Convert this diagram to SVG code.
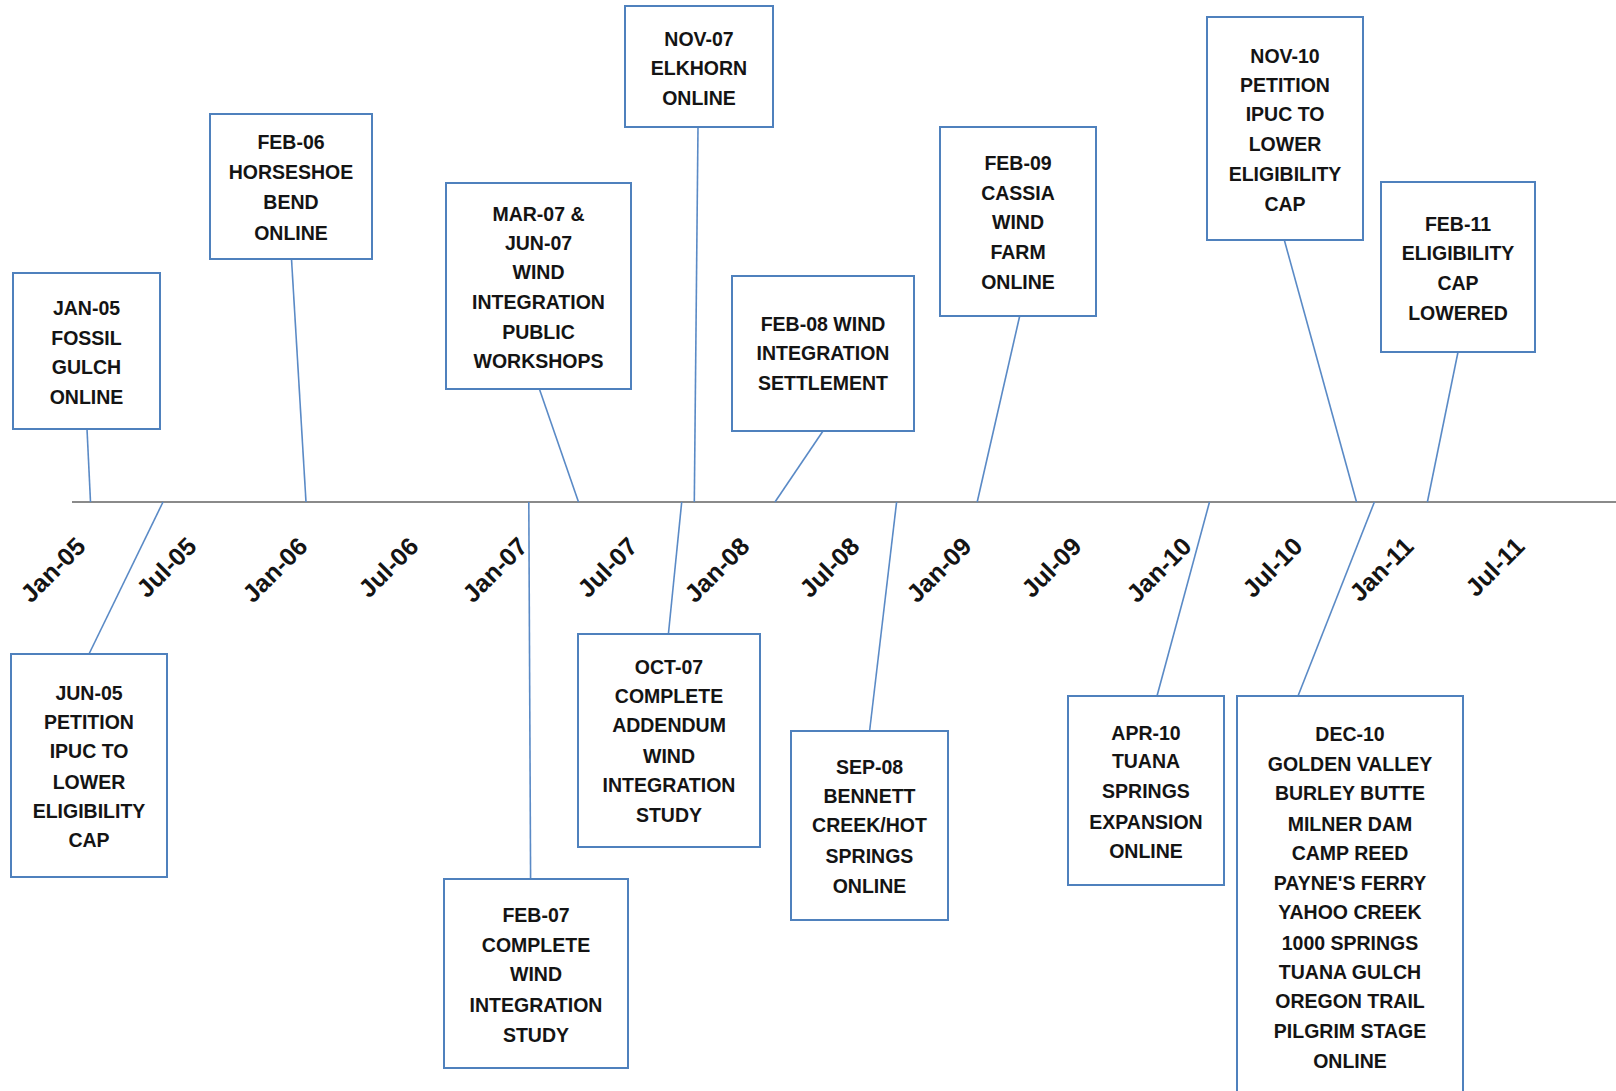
<svg xmlns="http://www.w3.org/2000/svg" width="1616" height="1091" viewBox="0 0 1616 1091">
<style>
.box{fill:#ffffff;stroke:#4f81bd;stroke-width:2}
.t{font-family:"Liberation Sans",Arial,sans-serif;font-weight:bold;font-size:19.5px;fill:#141414;text-anchor:middle}
.ax{font-family:"Liberation Sans",Arial,sans-serif;font-weight:bold;font-size:25px;fill:#141414;text-anchor:end}
.c{stroke:#5a8ac6;stroke-width:1.6;fill:none}
</style>
<rect width="1616" height="1091" fill="#ffffff"/>
<g id="axis">
<line x1="72" y1="502" x2="1616" y2="502" stroke="#8a8a8a" stroke-width="1.8"/>
<text class="ax" transform="translate(87,548) rotate(-45)">Jan-05</text>
<text class="ax" transform="translate(198,548) rotate(-45)">Jul-05</text>
<text class="ax" transform="translate(309,548) rotate(-45)">Jan-06</text>
<text class="ax" transform="translate(420,548) rotate(-45)">Jul-06</text>
<text class="ax" transform="translate(529,548) rotate(-45)">Jan-07</text>
<text class="ax" transform="translate(639,548) rotate(-45)">Jul-07</text>
<text class="ax" transform="translate(751,548) rotate(-45)">Jan-08</text>
<text class="ax" transform="translate(861,548) rotate(-45)">Jul-08</text>
<text class="ax" transform="translate(973,548) rotate(-45)">Jan-09</text>
<text class="ax" transform="translate(1083,548) rotate(-45)">Jul-09</text>
<text class="ax" transform="translate(1193,548) rotate(-45)">Jan-10</text>
<text class="ax" transform="translate(1304,548) rotate(-45)">Jul-10</text>
<text class="ax" transform="translate(1415,548) rotate(-45)">Jan-11</text>
<text class="ax" transform="translate(1526,548) rotate(-45)">Jul-11</text>
</g>
<g id="connectors">
<line class="c" x1="87" y1="429" x2="90.5" y2="502"/>
<line class="c" x1="89" y1="654" x2="163" y2="502"/>
<line class="c" x1="291.5" y1="259" x2="306" y2="502"/>
<line class="c" x1="528.8" y1="502" x2="530.6" y2="879"/>
<line class="c" x1="539.4" y1="389" x2="578.5" y2="502"/>
<line class="c" x1="681.7" y1="502" x2="668.4" y2="634"/>
<line class="c" x1="698" y1="127" x2="694.3" y2="502"/>
<line class="c" x1="823" y1="431" x2="775" y2="502"/>
<line class="c" x1="896.6" y1="502" x2="869.6" y2="731"/>
<line class="c" x1="1019.7" y1="316" x2="977.2" y2="502"/>
<line class="c" x1="1209.5" y1="502" x2="1157" y2="696"/>
<line class="c" x1="1284.3" y1="240" x2="1356.5" y2="502"/>
<line class="c" x1="1374.4" y1="502" x2="1298" y2="696"/>
<line class="c" x1="1458" y1="352" x2="1427.4" y2="502"/>
</g>
<g id="n-jan05">
<rect class="box" x="13" y="273" width="147" height="156"/>
<text class="t" x="86.5" y="315">JAN-05</text>
<text class="t" x="86.5" y="344.5">FOSSIL</text>
<text class="t" x="86.5" y="374">GULCH</text>
<text class="t" x="86.5" y="403.5">ONLINE</text>
</g>
<g id="n-feb06">
<rect class="box" x="210" y="114" width="162" height="145"/>
<text class="t" x="291" y="149">FEB-06</text>
<text class="t" x="291" y="179">HORSESHOE</text>
<text class="t" x="291" y="209">BEND</text>
<text class="t" x="291" y="240">ONLINE</text>
</g>
<g id="n-mar07">
<rect class="box" x="446" y="183" width="185" height="206"/>
<text class="t" x="538.5" y="220.5">MAR-07 &amp;</text>
<text class="t" x="538.5" y="250">JUN-07</text>
<text class="t" x="538.5" y="279">WIND</text>
<text class="t" x="538.5" y="309">INTEGRATION</text>
<text class="t" x="538.5" y="338.5">PUBLIC</text>
<text class="t" x="538.5" y="368">WORKSHOPS</text>
</g>
<g id="n-nov07">
<rect class="box" x="625" y="6" width="148" height="121"/>
<text class="t" x="699" y="46">NOV-07</text>
<text class="t" x="699" y="75">ELKHORN</text>
<text class="t" x="699" y="104.5">ONLINE</text>
</g>
<g id="n-feb08">
<rect class="box" x="732" y="276" width="182" height="155"/>
<text class="t" x="823" y="331">FEB-08 WIND</text>
<text class="t" x="823" y="360">INTEGRATION</text>
<text class="t" x="823" y="389.5">SETTLEMENT</text>
</g>
<g id="n-feb09">
<rect class="box" x="940" y="127" width="156" height="189"/>
<text class="t" x="1018" y="170">FEB-09</text>
<text class="t" x="1018" y="199.5">CASSIA</text>
<text class="t" x="1018" y="229">WIND</text>
<text class="t" x="1018" y="259">FARM</text>
<text class="t" x="1018" y="289">ONLINE</text>
</g>
<g id="n-nov10">
<rect class="box" x="1207" y="17" width="156" height="223"/>
<text class="t" x="1285" y="62.5">NOV-10</text>
<text class="t" x="1285" y="91.5">PETITION</text>
<text class="t" x="1285" y="121">IPUC TO</text>
<text class="t" x="1285" y="151">LOWER</text>
<text class="t" x="1285" y="181">ELIGIBILITY</text>
<text class="t" x="1285" y="210.5">CAP</text>
</g>
<g id="n-feb11">
<rect class="box" x="1381" y="182" width="154" height="170"/>
<text class="t" x="1458" y="231">FEB-11</text>
<text class="t" x="1458" y="260">ELIGIBILITY</text>
<text class="t" x="1458" y="289.5">CAP</text>
<text class="t" x="1458" y="320">LOWERED</text>
</g>
<g id="n-jun05">
<rect class="box" x="11" y="654" width="156" height="223"/>
<text class="t" x="89" y="700">JUN-05</text>
<text class="t" x="89" y="729">PETITION</text>
<text class="t" x="89" y="758">IPUC TO</text>
<text class="t" x="89" y="788.5">LOWER</text>
<text class="t" x="89" y="818">ELIGIBILITY</text>
<text class="t" x="89" y="847">CAP</text>
</g>
<g id="n-feb07">
<rect class="box" x="444" y="879" width="184" height="189"/>
<text class="t" x="536" y="922">FEB-07</text>
<text class="t" x="536" y="951.5">COMPLETE</text>
<text class="t" x="536" y="981">WIND</text>
<text class="t" x="536" y="1012">INTEGRATION</text>
<text class="t" x="536" y="1041.5">STUDY</text>
</g>
<g id="n-oct07">
<rect class="box" x="578" y="634" width="182" height="213"/>
<text class="t" x="669" y="674">OCT-07</text>
<text class="t" x="669" y="703">COMPLETE</text>
<text class="t" x="669" y="732">ADDENDUM</text>
<text class="t" x="669" y="763">WIND</text>
<text class="t" x="669" y="792">INTEGRATION</text>
<text class="t" x="669" y="821.5">STUDY</text>
</g>
<g id="n-sep08">
<rect class="box" x="791" y="731" width="157" height="189"/>
<text class="t" x="869.5" y="774">SEP-08</text>
<text class="t" x="869.5" y="803">BENNETT</text>
<text class="t" x="869.5" y="832">CREEK/HOT</text>
<text class="t" x="869.5" y="863">SPRINGS</text>
<text class="t" x="869.5" y="893">ONLINE</text>
</g>
<g id="n-apr10">
<rect class="box" x="1068" y="696" width="156" height="189"/>
<text class="t" x="1146" y="739.5">APR-10</text>
<text class="t" x="1146" y="768">TUANA</text>
<text class="t" x="1146" y="798">SPRINGS</text>
<text class="t" x="1146" y="829">EXPANSION</text>
<text class="t" x="1146" y="858">ONLINE</text>
</g>
<g id="n-dec10">
<rect class="box" x="1237" y="696" width="226" height="404"/>
<text class="t" x="1350" y="741">DEC-10</text>
<text class="t" x="1350" y="770.5">GOLDEN VALLEY</text>
<text class="t" x="1350" y="800">BURLEY BUTTE</text>
<text class="t" x="1350" y="830.5">MILNER DAM</text>
<text class="t" x="1350" y="860">CAMP REED</text>
<text class="t" x="1350" y="889.5">PAYNE'S FERRY</text>
<text class="t" x="1350" y="919">YAHOO CREEK</text>
<text class="t" x="1350" y="949.5">1000 SPRINGS</text>
<text class="t" x="1350" y="979">TUANA GULCH</text>
<text class="t" x="1350" y="1008">OREGON TRAIL</text>
<text class="t" x="1350" y="1038">PILGRIM STAGE</text>
<text class="t" x="1350" y="1068">ONLINE</text>
</g>
</svg>
